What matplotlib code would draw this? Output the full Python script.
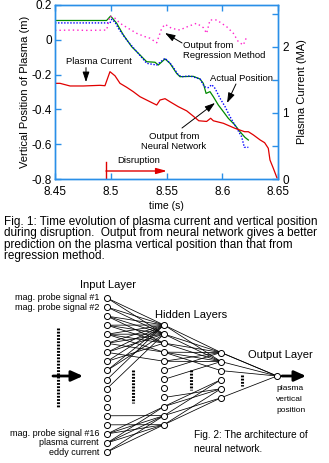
import numpy as np
import matplotlib.pyplot as plt
from matplotlib.ticker import FixedLocator, MultipleLocator

plt.rcParams["font.family"] = ["Liberation Sans", "DejaVu Sans"]
plt.rcParams["axes.unicode_minus"] = False

# ── data ─────────────────────────────────────────────────────
t_nn = [8.450, 8.4963, 8.4999, 8.5053, 8.5113, 8.5188, 8.5262, 8.5322, 8.5397,
        8.5426, 8.5487, 8.5531, 8.5591, 8.5621, 8.5740, 8.5800, 8.5830, 8.5855,
        8.5890, 8.5920, 8.5965, 8.6010, 8.6054, 8.6114, 8.6159, 8.6204, 8.6234]
z_nn = [0.111, 0.111, 0.137, 0.095, 0.028, -0.040, -0.087, -0.126, -0.129,
        -0.145, -0.110, -0.135, -0.193, -0.212, -0.210, -0.225, -0.250, -0.308,
        -0.298, -0.327, -0.375, -0.413, -0.451, -0.490, -0.528, -0.561, -0.576]

t_act = [8.450, 8.4993, 8.5010, 8.5040, 8.5068, 8.5143, 8.5233, 8.5322, 8.5412,
         8.5487, 8.5547, 8.5606, 8.5636, 8.5711, 8.5800, 8.5840, 8.5875, 8.5906,
         8.5935, 8.5980, 8.6025, 8.6070, 8.6130, 8.6174, 8.6198, 8.6234]
z_act = [0.097, 0.097, 0.118, 0.100, 0.066, -0.001, -0.068, -0.135, -0.145,
         -0.106, -0.145, -0.202, -0.212, -0.208, -0.225, -0.270, -0.275, -0.258,
         -0.279, -0.336, -0.384, -0.442, -0.509, -0.557, -0.618, -0.618]

t_reg = [8.450, 8.465, 8.480, 8.4963, 8.4993, 8.5038, 8.5083, 8.5157, 8.5233,
         8.5307, 8.5352, 8.5412, 8.5457, 8.5487, 8.5546, 8.5621, 8.5666, 8.5711,
         8.5770, 8.5830, 8.5860, 8.5890, 8.5950, 8.6040, 8.6100, 8.6144, 8.6189,
         8.6220]
z_reg = [0.054, 0.056, 0.054, 0.056, 0.137, 0.124, 0.095, 0.066, 0.037,
         0.018, 0.009, -0.017, 0.066, 0.089, 0.066, 0.056, 0.070, 0.081,
         0.095, 0.070, 0.037, 0.114, 0.114, 0.075, 0.037, -0.011, -0.030,
         0.018]

t_ip = [8.450, 8.4545, 8.4635, 8.4754, 8.4904, 8.4948, 8.4993, 8.5038, 8.5083,
        8.5143, 8.5202, 8.5262, 8.5352, 8.5412, 8.5442, 8.5487, 8.5531, 8.5606,
        8.5681, 8.5740, 8.5790, 8.5860, 8.5896, 8.5920, 8.6010, 8.6114, 8.6200,
        8.6234, 8.6280, 8.6340, 8.6380, 8.6413, 8.6428, 8.6458, 8.6490]
ip = [1.446, 1.446, 1.406, 1.406, 1.416, 1.410, 1.622, 1.560, 1.446,
      1.386, 1.320, 1.244, 1.168, 1.118, 1.194, 1.214, 1.168, 1.093,
      1.030, 0.950, 0.880, 0.870, 0.918, 0.880, 0.842, 0.766, 0.715,
      0.715, 0.665, 0.590, 0.549, 0.464, 0.287, 0.162, 0.020]

t_disr = 8.4957
x_ticks = [8.45, 8.5, 8.55, 8.6, 8.65]
x_labels = ["8.45", "8.5", "8.55", "8.6", "8.65"]
y_ticks = [0.2, 0, -0.2, -0.4, -0.6, -0.8]
y_labels = ["0.2", "0", "-0.2", "-0.4", "-0.6", "-0.8"]

caption1 = ["Fig. 1: Time evolution of plasma current and vertical position",
            "during disruption.  Output from neural network gives a better",
            "prediction on the plasma vertical position than that from",
            "regression method."]

n_in, n_h1, n_h2 = 18, 12, 6
in_labels_top = ["mag. probe signal #1", "mag. probe signal #2"]
in_labels_bot = ["mag. probe signal #16", "plasma current", "eddy current"]
# connections (source, target)
in_h1 = [(0, 0), (0, 1), (1, 0), (1, 1), (2, 0), (2, 1), (2, 2), (3, 0), (3, 1),
         (4, 0), (4, 1), (4, 2), (5, 0), (5, 1), (5, 3), (6, 0), (6, 1), (6, 4),
         (7, 0), (7, 2), (8, 0), (8, 1), (9, 0), (10, 1), (3, 2), (4, 3),
         (13, 10), (14, 11), (15, 9), (15, 10), (15, 11), (16, 9), (16, 10),
         (16, 11), (17, 10), (17, 11)]
h1_h2 = [(0, 0), (0, 1), (1, 0), (1, 1), (2, 0), (2, 1), (3, 0), (3, 1), (3, 2),
         (4, 0), (4, 1), (5, 0), (6, 1), (8, 4), (9, 3), (9, 4), (10, 3),
         (10, 5), (11, 4), (11, 5)]
h2_out = [0, 0, 1, 2, 5]

# ── figure ───────────────────────────────────────────────────
W, H = 329, 463
fig = plt.figure(figsize=(W / 100, H / 100), dpi=100)

spine_c = "#2a8fe8"
ax = fig.add_axes([55 / W, 1 - 179 / H, 223 / W, 174 / H])
ax2 = ax.twinx()

ax.plot(t_nn, z_nn, color="#008a00", lw=0.9)
ax.plot(t_act, z_act, color="#0000ff", lw=1.0, ls=(0, (1, 1.2)))
ax.plot(t_reg, z_reg, color="#ff22cc", lw=1.0, ls=(0, (1, 2.2)))
ax2.plot(t_ip, ip, color="#e00000", lw=0.9)

ax.set_xlim(8.45, 8.65)
ax.set_ylim(-0.8, 0.2)
ax2.set_ylim(0, 2.63)
ax.set_xticks(x_ticks)
ax.set_xticklabels(x_labels)
ax.set_yticks(y_ticks)
ax.set_yticklabels(y_labels)
ax2.yaxis.set_major_locator(FixedLocator([0, 1, 2]))
ax2.yaxis.set_minor_locator(MultipleLocator(0.5))

for a in (ax, ax2):
    for s in a.spines.values():
        s.set_color(spine_c)
        s.set_linewidth(1.0)
    a.tick_params(which="both", direction="in", color=spine_c, length=4,
                  width=1.0, labelsize=8.5, pad=2)
ax.tick_params(axis="x", top=True, pad=5)
ax2.tick_params(axis="y", pad=3)
ax.set_xlabel("time (s)", fontsize=7.5, labelpad=2)
ax.set_ylabel("Vertical Position of Plasma (m)", fontsize=8, labelpad=1)
ax2.set_ylabel("Plasma Current (MA)", fontsize=8, labelpad=6)

# annotations inside the plot
arr = dict(arrowstyle="-|>,head_length=0.9,head_width=0.3", color="k",
           lw=0.7, shrinkA=0, shrinkB=0)
ax.text(8.4895, -0.126, "Plasma Current", fontsize=6.8, ha="center",
        va="center")
ax.annotate("", xy=(8.4778, -0.243), xytext=(8.4778, -0.16),
            arrowprops=arr, fontsize=6.8)
ax.text(8.5648, -0.062, "Output from\nRegression Method", fontsize=6.8,
        ha="left", va="center", linespacing=1.15)
ax.annotate("", xy=(8.5487, 0.039), xytext=(8.5639, -0.018), arrowprops=arr,
            fontsize=6.8)
ax.text(8.6174, -0.225, "Actual Position", fontsize=6.8, ha="center",
        va="center")
ax.annotate("", xy=(8.6043, -0.363), xytext=(8.6123, -0.254), arrowprops=arr,
            fontsize=6.8)
ax.text(8.5567, -0.585, "Output from\nNeural Network", fontsize=6.8,
        ha="center", va="center", linespacing=1.15)
ax.annotate("", xy=(8.5935, -0.363), xytext=(8.5639, -0.507), arrowprops=arr,
            fontsize=6.8)

# disruption marker
ax.plot([t_disr, t_disr], [-0.8, -0.702], color="#e00000", lw=1.0)
ax.annotate("", xy=(8.5504, -0.754), xytext=(t_disr, -0.754),
            arrowprops=dict(arrowstyle="-|>,head_length=0.9,head_width=0.25",
                            color="#e00000", lw=1.0, shrinkA=0, shrinkB=0),
            fontsize=7)
ax.text(8.5253, -0.696, "Disruption", fontsize=6.8, ha="center", va="center")

# ── overlay for captions and network sketch (pixel coords) ───
ov = fig.add_axes([0, 0, 1, 1])
ov.set_xlim(0, W)
ov.set_ylim(H, 0)
ov.axis("off")

for i, line in enumerate(caption1):
    ov.text(4, 222 + 11.3 * i, line, fontsize=8.5, ha="left", va="center")

x_in, x_h1, x_h2, x_out = 107, 164, 221, 277
dy = 9.06
y_in = [298 + dy * i for i in range(n_in)]
y_h1 = [325 + dy * j for j in range(n_h1)]
y_h2 = [352.5 + dy * j for j in range(n_h2)]
y_out = 376

lk = dict(color="k", lw=0.55, zorder=1)
for a, b in in_h1:
    ov.plot([x_in, x_h1], [y_in[a], y_h1[b]], **lk)
for a, b in h1_h2:
    ov.plot([x_h1, x_h2], [y_h1[a], y_h2[b]], **lk)
for a in h2_out:
    ov.plot([x_h2, x_out], [y_h2[a], y_out], **lk)

node = dict(s=19, facecolor="white", edgecolor="k", linewidths=0.7, zorder=3)
ov.scatter([x_in] * n_in, y_in, **node)
ov.scatter([x_h1] * n_h1, y_h1, **node)
ov.scatter([x_h2] * n_h2, y_h2, **node)
ov.scatter([x_out], [y_out], **node)

dots = dict(color="k", lw=2.2, ls=(0, (0.6, 0.45)), solid_capstyle="butt")
ov.plot([58, 58], [328, 407], **dots)
ov.plot([133, 133], [370, 403], **dots)
ov.plot([191, 191], [370, 390], **dots)
ov.plot([242, 242], [375, 386], **dots)

big = dict(arrowstyle="-|>,head_length=1.0,head_width=0.45", color="k",
           lw=2.0, shrinkA=0, shrinkB=0)
ov.annotate("", xy=(83, 376), xytext=(53, 376), arrowprops=big, fontsize=7)
ov.annotate("", xy=(306, 376), xytext=(282, 376), arrowprops=big, fontsize=7)

ov.text(108, 285, "Input Layer", fontsize=8, ha="center", va="center")
ov.text(191, 315, "Hidden Layers", fontsize=8, ha="center", va="center")
ov.text(280, 355, "Output Layer", fontsize=8, ha="center", va="center")
for k, s in enumerate(["plasma", "vertical", "position"]):
    ov.text(276, 388 + 11.5 * k, s, fontsize=6, ha="left", va="center")

for k, s in enumerate(in_labels_top):
    ov.text(99, y_in[k], s, fontsize=6.5, ha="right", va="center")
for k, s in enumerate(in_labels_bot):
    ov.text(99, y_in[15 + k], s, fontsize=6.5, ha="right", va="center")

ov.text(194, 435, "Fig. 2: The architecture of", fontsize=7.2, ha="left",
        va="center")
ov.text(194, 449, "neural network.", fontsize=7.2, ha="left", va="center")

fig.savefig("out.png", dpi=100)
